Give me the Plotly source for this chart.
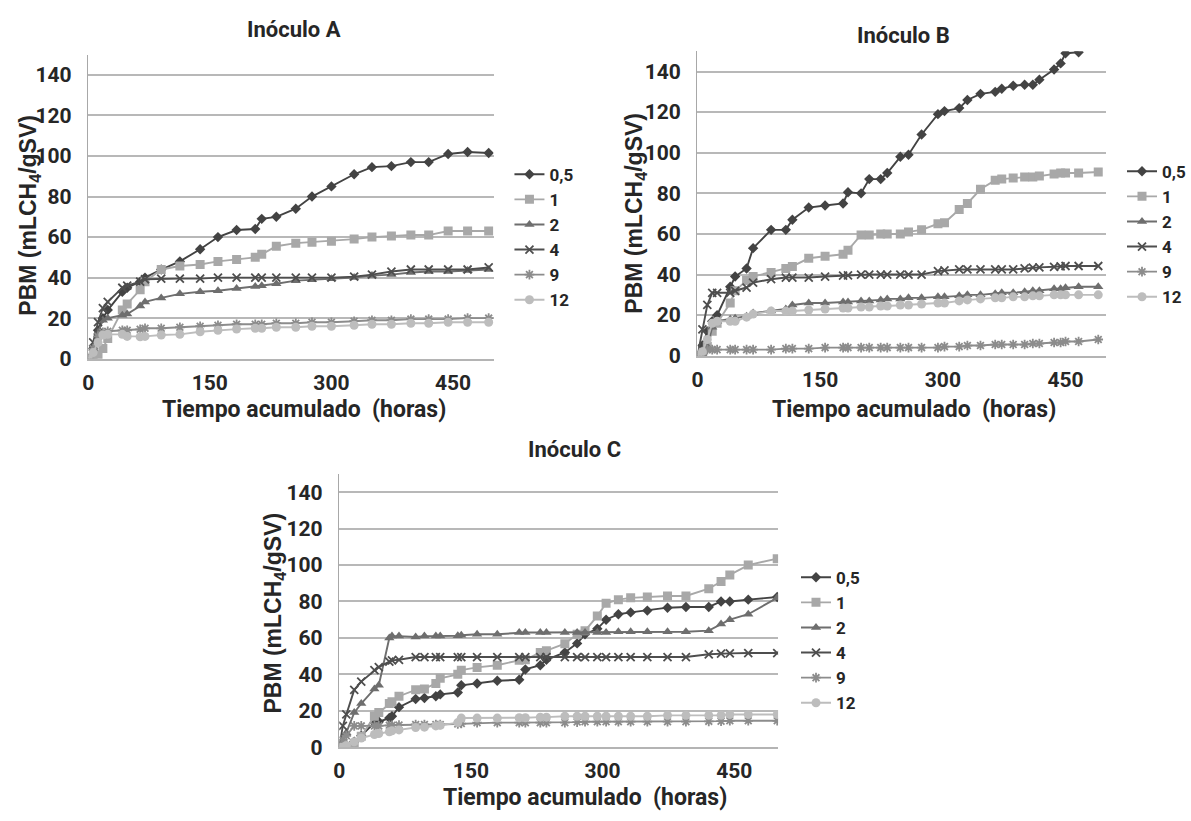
import plotly.graph_objects as go

W, H = 1191, 821
OFF = 0  # page margin is removed below (post_script)

# ---------------- data ----------------
series_names = ["0,5", "1", "2", "4", "9", "12"]

# Inóculo A
t_A = [0, 6, 12, 18, 24, 42, 48, 64, 70, 90, 113, 138, 160, 183, 206, 214, 232, 256, 276, 300, 328, 350, 374, 398, 420, 444, 468, 494]
A_05 = [0, 5, 14, 20, 24, 33, 35, 38, 40, 44, 48, 54, 60, 63.5, 64, 69, 70, 74, 80, 85, 91, 94.5, 95, 97, 97, 101, 102, 101.5]
A_1 = [0, 0, 2, 5, 10, 24, 27, 34, 38, 44, 45.7, 46.5, 48, 49, 50, 51.5, 55.5, 57, 57.5, 58, 59, 60, 60.5, 61, 61, 63, 63, 63]
A_2 = [0, 5, 13, 19, 20, 21.4, 22, 26, 28, 30, 32, 33, 33.5, 34.6, 35.6, 36, 37, 38.5, 39, 39.5, 40, 41, 41.5, 42.5, 43, 43, 43.5, 44]
A_4 = [0, 8, 18, 25, 28, 35, 36, 38, 39.2, 39.5, 39.5, 39.5, 40, 40, 40, 40, 40, 40, 40, 40, 40.5, 41.5, 43, 44, 44, 44, 44, 45]
A_9 = [0, 5, 11, 13, 13.5, 14, 14, 14.5, 15, 15, 15.5, 16, 16.5, 17, 17, 17, 17.5, 17.5, 18, 18, 18.5, 19, 19, 19.5, 19.5, 19.5, 20, 20]
A_12 = [0, 3, 8, 11.7, 12, 12, 11, 10.8, 11, 11.7, 12, 13.3, 14, 14.6, 15, 15, 15.5, 15.5, 16, 16, 16.5, 17, 17, 17.5, 17.5, 18, 18, 18]

# Inóculo B
t_B = [0, 6, 12, 18, 24, 40, 46, 60, 68, 90, 108, 116, 136, 156, 178, 184, 200, 210, 224, 232, 248, 258, 274, 294, 302, 320, 330, 346, 364, 372, 386, 400, 410, 418, 436, 444, 450, 466, 490]
B_05 = [0, 5, 12, 17, 20, 34, 39, 43, 53, 62, 62, 67, 73, 74, 75, 80.5, 80, 87, 87, 90, 98, 99, 109, 119, 120.5, 122, 126, 129, 130, 131.5, 133, 133.5, 133.5, 136, 141, 144, 149, 149.5, None]
B_1 = [0, 1, 4.5, 12, 16, 26, 32, 37, 39, 41, 43, 44, 48, 49, 50, 52, 59.5, 59.5, 60, 60, 60, 61, 62, 65, 65.5, 72, 75, 82, 86.5, 87, 87.5, 88, 88, 88.5, 89.5, 90, 90, 90, 90.5]
B_2 = [0, 1, 4.5, 14, 17, 18, 18.5, 19.5, 21, 22, 23, 25, 26, 26, 26.5, 26.5, 27, 27, 27.5, 28, 28, 28.5, 28.5, 29, 29, 29.5, 30, 30, 30.5, 31, 31, 31.5, 32, 32, 33, 33, 33.5, 34, 34]
B_4 = [0, 13, 25, 31, 31, 31, 32, 33.6, 36, 37.7, 38.5, 38.5, 38.5, 39, 39.5, 39.6, 40, 40, 40, 40, 40, 40, 40, 41.7, 42, 42.5, 42.5, 42.5, 42.5, 42.5, 42.5, 43, 43.4, 43.5, 43.8, 44, 44.2, 44.2, 44.2]
B_9 = [0, 2, 3, 3, 3, 3, 3, 3, 3, 3, 3.5, 3.5, 3.5, 4, 4, 4, 4, 4, 4, 4, 4, 4, 4, 4, 4.5, 4.5, 5, 5, 5.5, 5.5, 5.5, 5.5, 6, 6, 6.5, 6.5, 7, 7, 8]
B_12 = [0, 2, 8, 16, 17, 17, 17, 19, 20.5, 22, 22, 22, 22.5, 23, 23.5, 23.5, 24, 24, 24.5, 24.5, 25, 25, 25.5, 26, 26, 27, 27.5, 28, 28.5, 28.5, 29, 29, 29.5, 29.5, 30, 30, 30, 30, 30]

# Inóculo C
t_C = [0, 4, 8, 17, 25, 40, 45, 57, 60, 68, 87, 97, 110, 115, 135, 139, 157, 180, 205, 212, 229, 236, 257, 271, 280, 294, 304, 318, 332, 351, 374, 395, 421, 435, 445, 466, 499]
C_05 = [0, 0, 1, 3, 6.3, 13.5, 14, 16, 17, 22, 26.5, 27, 28, 29, 30, 34, 35, 36.5, 37, 42.7, 45, 48, 52, 57, 62, 65, 70, 73, 74, 75, 76.6, 77, 77, 80, 80, 81, 82.5]
C_1 = [0, 0, 0, 2, 6, 17, 19, 24, 25, 28, 31.5, 32, 35, 37.8, 40, 42.3, 43.8, 45, 47.7, 48, 52, 53, 56.8, 62, 64, 72, 79, 81, 82, 82.5, 83, 83, 87, 91, 94.6, 100, 103.5]
C_2 = [0, 3, 8, 19, 24, 32, 34, 60, 61, 61, 60.5, 61, 61, 61, 61.2, 61.5, 62, 62, 63, 63, 63, 63, 63, 63, 63, 63, 63, 63.4, 63.4, 63.4, 63.4, 63.4, 64, 67.6, 70, 73, 82]
C_4 = [0, 11.7, 18, 31.5, 36, 42.3, 44, 47, 47.7, 48, 49.5, 49.5, 49.5, 49.5, 49.5, 49.5, 49.5, 49.5, 49.5, 49.5, 49.5, 49.5, 49.5, 49.5, 49.5, 49.5, 49.5, 49.5, 49.5, 49.5, 49.5, 49.5, 51, 51.4, 51.5, 51.7, 51.7]
C_9 = [0, 4, 6.3, 11.7, 11.7, 11.7, 11.7, 12, 12, 12.2, 12.5, 12.5, 12.5, 12.5, 12.8, 13, 13.5, 13.5, 13.5, 13.5, 13.5, 13.5, 13.5, 13.8, 14, 14, 14, 14, 14, 14, 14, 14, 14.2, 14.3, 14.5, 14.5, 14.5]
C_12 = [0, 0, 1, 3, 5, 7, 7.5, 8.5, 9, 9.5, 10.8, 11, 11.7, 12, 13.5, 16, 16, 16, 16.2, 16.2, 16.5, 16.5, 17, 17, 17, 17, 17, 17, 17, 17, 17.5, 17.5, 17.5, 17.5, 18, 18, 18]

x_ticks = [0, 150, 300, 450]
y_ticks = [0, 20, 40, 60, 80, 100, 120, 140]

panel_titles = ["Inóculo A", "Inóculo B", "Inóculo C"]
x_title = "Tiempo acumulado  (horas)"
y_title = "PBM (mLCH<sub>4</sub>/gSV)"

# ---------------- styling ----------------
colors = ["#434343", "#a8a8a8", "#6e6e6e", "#4e4e4e", "#8c8c8c", "#bdbdbd"]
symbols = ["diamond", "square", "triangle-up", "x-thin", "asterisk", "circle"]
msizes = [8, 9, 9, 8, 8, 9]

NARROW = "Roboto, Liberation Sans, Arial, sans-serif"
REG = "Liberation Sans, Arial, sans-serif"
TXT = "#262626"


def px(x, y):
    """screen pixel -> paper coordinates"""
    return (x - OFF) / W, 1 - (y - OFF) / H


panels = [
    ("x", "y", "legend", t_A, [A_05, A_1, A_2, A_4, A_9, A_12]),
    ("x2", "y2", "legend2", t_B, [B_05, B_1, B_2, B_4, B_9, B_12]),
    ("x3", "y3", "legend3", t_C, [C_05, C_1, C_2, C_4, C_9, C_12]),
]

fig = go.Figure()
for xa, ya, lg, t, vals in panels:
    for i, (name, v) in enumerate(zip(series_names, vals)):
        thin = symbols[i] in ("x-thin", "asterisk")
        marker = dict(symbol=symbols[i], size=msizes[i], color=colors[i],
                      line=dict(width=1.8 if thin else 0, color=colors[i]))
        fig.add_trace(go.Scatter(
            x=t, y=v, name=name, mode="lines+markers",
            line=dict(color=colors[i], width=1.9),
            marker=marker, xaxis=xa, yaxis=ya, legend=lg,
            connectgaps=False,
        ))

# axis boxes in screen pixels: (x_left, x_right, y_of_0, y_of_150)
dom = {
    "": (82.7, 490, 364, 55.5),
    "2": (695, 1106, 361, 52),
    "3": (335, 776, 758.3, 481),
}

axis_common_x = dict(range=[0, 500], tickmode="array", tickvals=x_ticks,
                     showgrid=False, zeroline=False, showline=True,
                     linecolor="#b4b4b4", linewidth=2, ticks="",
                     tickfont=dict(family=NARROW, size=21, color=TXT, weight="bold"),
                     ticklabelstandoff=4, fixedrange=True)
axis_common_y = dict(range=[0, 150], tickmode="array", tickvals=y_ticks,
                     showgrid=True, gridcolor="#b8b8b8", gridwidth=2,
                     zeroline=False, showline=True, linecolor="#a8a8a8",
                     linewidth=1.5, ticks="",
                     tickfont=dict(family=NARROW, size=21, color=TXT, weight="bold"),
                     ticklabelstandoff=11, fixedrange=True)

layout = dict(width=W, height=H, autosize=False,
              margin=dict(l=0, r=0, t=0, b=0),
              paper_bgcolor="white", plot_bgcolor="white",
              showlegend=True)

for k, (x0, x1, y0, y1) in dom.items():
    ax = dict(axis_common_x)
    ax["domain"] = [px(x0, 0)[0], px(x1, 0)[0]]
    ax["anchor"] = "y" + k
    ay = dict(axis_common_y)
    ay["domain"] = [px(0, y0)[1], px(0, y1)[1]]
    ay["anchor"] = "x" + k
    layout["xaxis" + k] = ax
    layout["yaxis" + k] = ay

legend_pos = {"legend": (506, 159), "legend2": (1122, 156), "legend3": (794, 568)}
for lg, (lx, ly) in legend_pos.items():
    xx, yy = px(lx, ly)
    layout[lg] = dict(x=xx, y=yy, xanchor="left", yanchor="top",
                      xref="paper", yref="paper",
                      bgcolor="rgba(0,0,0,0)", borderwidth=0,
                      font=dict(family=NARROW, size=17, color=TXT, weight="bold"),
                      itemwidth=30, tracegroupgap=0)

fig.update_layout(**layout)

ann = []
title_pos = [(289, 30), (902, 36), (571, 456)]
for txt, (x, y) in zip(panel_titles, title_pos):
    xx, yy = px(x, y)
    ann.append(dict(text=txt, x=xx, y=yy, xref="paper", yref="paper",
                    showarrow=False, xanchor="center", yanchor="middle",
                    font=dict(family=NARROW, size=22, color=TXT, weight="bold")))
for (x, y) in [(300, 416), (913, 416), (582, 809)]:
    xx, yy = px(x, y)
    ann.append(dict(text=x_title, x=xx, y=yy, xref="paper", yref="paper",
                    showarrow=False, xanchor="center", yanchor="middle",
                    font=dict(family=NARROW, size=23, color=TXT, weight="bold")))
for (x, y) in [(24, 218), (633, 216), (270, 622)]:
    xx, yy = px(x, y)
    ann.append(dict(text=y_title, x=xx, y=yy, xref="paper", yref="paper",
                    showarrow=False, xanchor="center", yanchor="middle",
                    textangle=-90,
                    font=dict(family=REG, size=23, color=TXT, weight="bold")))
fig.update_layout(annotations=ann)

fig.write_html("out.html",
               config={"displayModeBar": False, "staticPlot": True},
               post_script="document.body.style.margin='0px';document.body.style.overflow='hidden';")
